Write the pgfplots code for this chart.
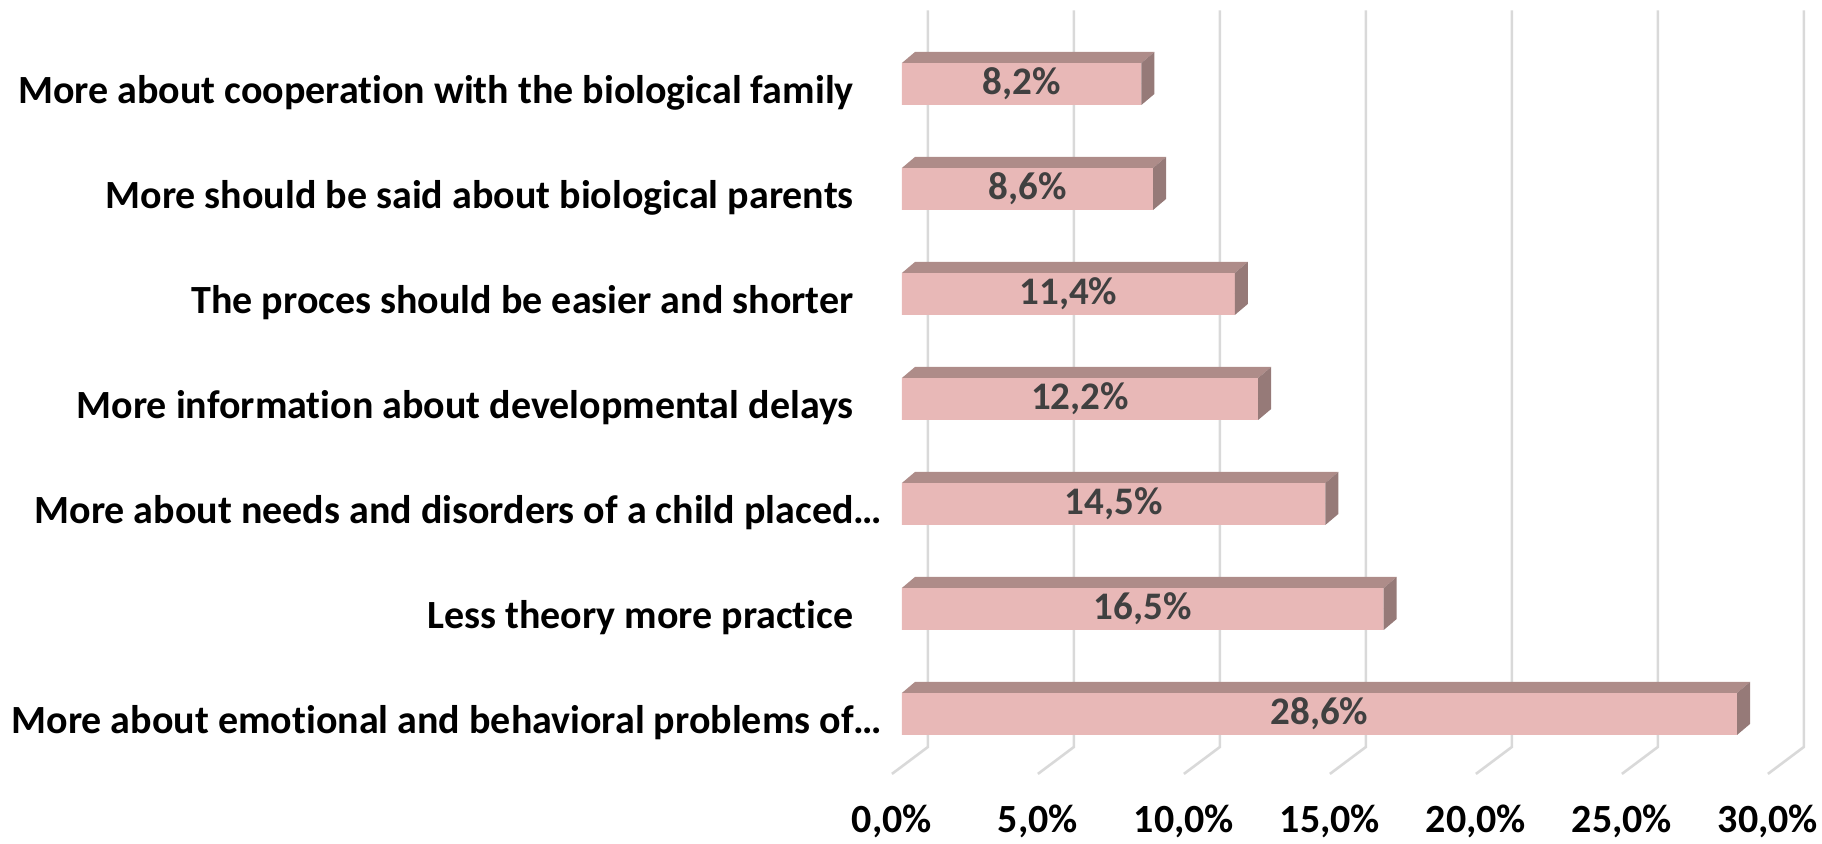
\documentclass[border=0pt]{standalone}
\usepackage{pgfplots}
\pgfplotsset{compat=1.18}
\usepackage{pgfplotstable}
\usepackage{fontspec}
\setmainfont[Ligatures=NoCommon]{Carlito}

\definecolor{frontc}{RGB}{232,184,183}
\definecolor{topc}{RGB}{174,140,137}
\definecolor{sidec}{RGB}{150,122,120}
\definecolor{gridc}{RGB}{217,217,217}
\definecolor{labc}{RGB}{64,64,64}

% index 0 = bottom bar
\pgfplotstableread{
i v
0 28.6
1 16.5
2 14.5
3 12.2
4 11.4
5 8.6
6 8.2
}\datatable

\begin{document}
\begin{tikzpicture}
\begin{axis}[
	x=14.6pt, y=52.5pt,
	xmin=0, xmax=30,
	ymin=-0.6, ymax=6.7,
	clip=false,
	axis line style={draw=none},
	major tick length=0pt,
	tick style={draw=none},
	xtick={0,5,...,30},
	xticklabels={{0,0\%},{5,0\%},{10,0\%},{15,0\%},{20,0\%},{25,0\%},{30,0\%}},
	ytick={0,...,6},
	yticklabels={
		{More about emotional and behavioral problems of\rlap{…}},
		{Less theory more practice},
		{More about needs and disorders of a child placed\rlap{…}},
		{More information about developmental delays},
		{The proces should be easier and shorter},
		{More should be said about biological parents},
		{More about cooperation with the biological family}},
	tick label style={font=\bfseries\fontsize{20}{22}\selectfont, text=black},
	xticklabel style={anchor=center, inner sep=0pt, xshift=-5pt, yshift=-22pt},
	yticklabel style={anchor=east, inner sep=0pt, xshift=-24pt, yshift=-4.5pt},
]
% back wall grid and floor stubs
\pgfplotsinvokeforeach{0,5,...,30}{
	\draw[gridc, line width=1.3pt]
		([xshift=13pt]axis cs:#1,6.7) -- ([xshift=13pt]axis cs:#1,-0.314)
		-- ([xshift=-5pt]axis cs:#1,-0.571);
}
% front faces
\addplot[xbar, bar width=21pt, fill=frontc, draw=none] table[x=v, y=i] {\datatable};
% top and side faces, value labels
\addplot[only marks, scatter, mark=*, mark size=0pt,
	mark options={draw=none, fill=none},
	visualization depends on={\thisrow{v} \as \val},
	scatter/@pre marker code/.code={
		\pgfmathsetmacro\L{\val*14.6}
		\fill[topc, draw=none] (-\L pt,10.5pt) -- (0pt,10.5pt) -- (6.5pt,16pt) -- (-\L pt+6.5pt,16pt) -- cycle;
		\fill[sidec, draw=none] (0pt,-10.5pt) -- (0pt,10.5pt) -- (6.5pt,16pt) -- (6.5pt,-5pt) -- cycle;
		\node[text=labc, font=\bfseries\fontsize{19.5}{21}\selectfont, inner sep=0pt]
			at (-\L pt/2,0pt) {\pgfmathprintnumber[fixed, fixed zerofill, precision=1, use comma, assume math mode=true]{\val}\%};
	},
	scatter/@post marker code/.code={},
] table[x=v, y=i] {\datatable};
\coordinate (bl) at (axis cs:-30.89,-1.23);
\coordinate (tr) at (axis cs:31.51,6.80);
\end{axis}
\pgfresetboundingbox
\useasboundingbox (bl) rectangle (tr);
\end{tikzpicture}
\end{document}
